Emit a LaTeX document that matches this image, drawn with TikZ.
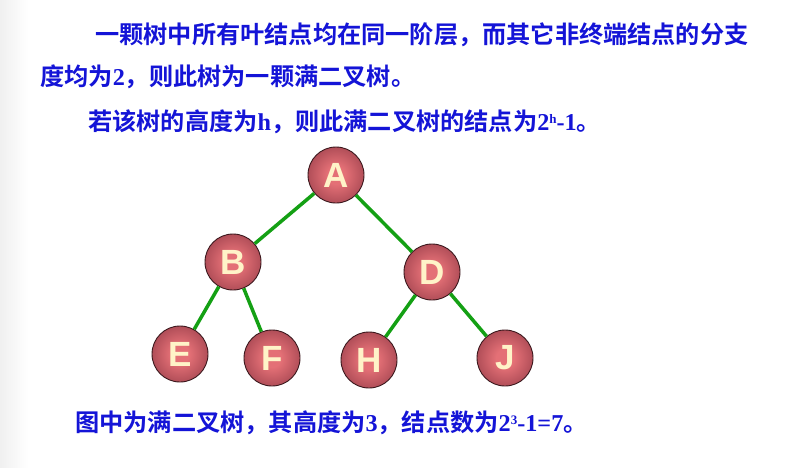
\documentclass[tikz,border=0pt]{standalone}
\usepackage{fontspec}
\setmainfont{Liberation Serif}
\newfontfamily\cjk{Noto Sans CJK SC}[BoldFont={* Bold}]
\newfontfamily\latb{Liberation Serif}[BoldFont={* Bold}]
\newfontfamily\ballfont{Liberation Sans}[BoldFont={* Bold}]
\definecolor{txtblue}{RGB}{20,20,215}
\definecolor{edgegreen}{RGB}{20,160,20}
\definecolor{ballin}{RGB}{228,112,118}
\definecolor{ballmid}{RGB}{180,80,90}
\definecolor{ballout}{RGB}{130,50,60}
\definecolor{ballrim}{RGB}{60,25,30}
\definecolor{cream}{RGB}{255,243,200}
\pgfdeclareradialshading{ballshade}{\pgfpoint{0bp}{0bp}}{color(0bp)=(ballin); color(8bp)=(ballin); color(24bp)=(ballmid); color(36bp)=(ballout); color(100bp)=(ballout)}
\newcommand{\latxt}[1]{{\latb\bfseries #1}}
\newcommand{\supx}[1]{\raisebox{0.6ex}{\fontsize{13}{13}\selectfont\bfseries #1}}
\begin{document}
\begin{tikzpicture}[x=1pt,y=-1pt,
  ball/.style={circle, minimum size=56pt, inner sep=0pt, draw=ballrim, line width=0.9pt,
    shading=ballshade, text=cream,
    font=\ballfont\bfseries\fontsize{35}{35}\selectfont},
  edge/.style={draw=edgegreen, line width=3.5pt},
  txt/.style={anchor=base west, inner sep=0pt, text=txtblue,
    font=\cjk\bfseries\fontsize{24.2}{24.2}\selectfont}]
\useasboundingbox (0,0) rectangle (793,467);
\fill[white] (0,0) rectangle (793,467);
\shade[left color=black!6, right color=white] (0,0) rectangle (28,467);

\node[txt] (l1) at (95,43) {一颗树中所有叶结点均在同一阶层，而其它非终端结点的分支};
\node[txt] (l2) at (40,85) {度均为\latxt{2}，则此树为一颗满二叉树。};
\node[txt] (l3) at (88,130) {若该树的高度为\latxt{h}，则此满二叉树的结点为\latxt{2\supx{h}-1}。};
\node[txt] (l4) at (75,431) {图中为满二叉树，其高度为\latxt{3}，结点数为\latxt{2\supx{3}-1=7}。};

\node[ball] (A) at (336,175) {A};
\node[ball] (B) at (233,262) {B};
\node[ball] (D) at (432,272) {D};
\node[ball] (E) at (180,354) {E};
\node[ball] (F) at (272,358) {F};
\node[ball] (H) at (369,360) {H};
\node[ball] (J) at (505,358) {J};

\draw[edge] (A) -- (B);
\draw[edge] (A) -- (D);
\draw[edge] (B) -- (E);
\draw[edge] (B) -- (F);
\draw[edge] (D) -- (H);
\draw[edge] (D) -- (J);
\end{tikzpicture}
\end{document}
